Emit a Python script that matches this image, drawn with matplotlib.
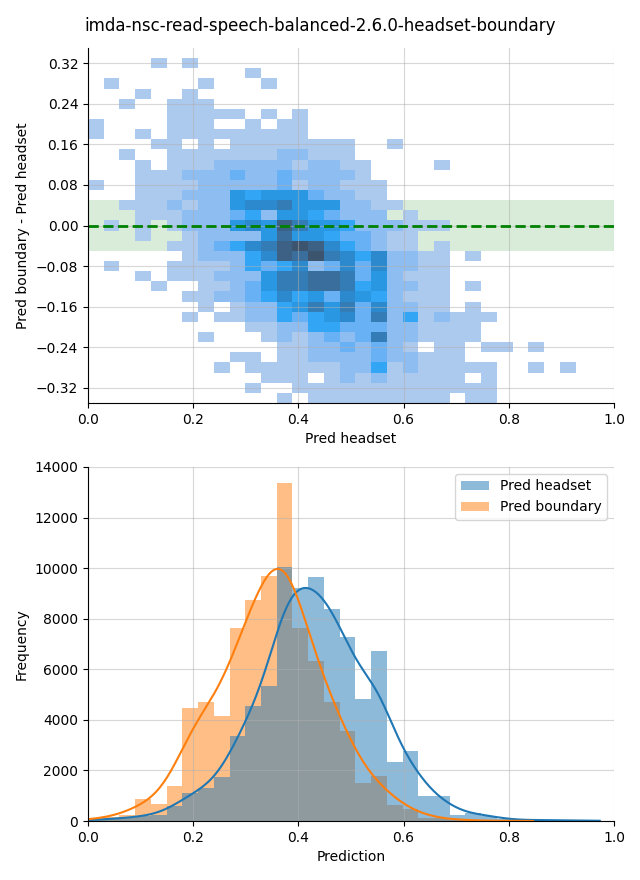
import numpy as np
import matplotlib
matplotlib.use("Agg")
import matplotlib.pyplot as plt
from matplotlib.colors import ListedColormap, to_rgba
from matplotlib.patches import Patch
from seaborn.external import husl

# ---------------- data ----------------
title = "imda-nsc-read-speech-balanced-2.6.0-headset-boundary"

bin_width = 0.0299          # shared histogram bin width (starts at 0)
n_bins = 33

headset_counts = [60, 80, 120, 200, 230, 585, 1110, 1310, 1730, 3380, 4560,
                  5350, 10050, 9220, 9650, 8390, 7260, 4825, 6730, 2350, 2780,
                  1007, 1007, 257, 323, 217, 60, 40, 30, 40, 30, 20, 10]
boundary_counts = [110, 140, 230, 888, 691, 1402, 4455, 4720, 4167, 7642, 8748,
                   9696, 13370, 7642, 6340, 4720, 3574, 1508, 1770, 652, 481,
                   126, 100, 40, 20, 10, 5, 3, 0, 0, 0, 0, 0]
headset_range = (0.0, 0.973)
boundary_range = (0.0, 0.846)

# 2D histogram: rows from diff = +0.33 downwards in steps of 0.02,
# columns = Pred headset bins; value = relative count level ('.' = empty)
diff_top_edge = 0.33
diff_bin_height = 0.02
cell_levels = [
    "....1.1...." "..........." "...........",
    "..........1" "..........." "...........",
    ".1.....1..." "1.........." "...........",
    "...1..1...." "..........." "...........",
    "..1..111..." "..........." "...........",
    ".....11111." "1.1........" "...........",
    "1....111..1" ".11........" "...........",
    "1..1.111111" "111........" "...........",
    "....11.1.11" "111111..1.." "...........",
    "..1..111111" "122111....." "...........",
    "...1.111222" "2212211...." "1..........",
    "...11122232" "2322221...." "...........",
    "1..11112222" "23122111..." "...........",
    "...11122254" "55532211..." "...........",
    "..111212256" "675552211.." "...........",
    "...11122234" "25543222.1." "...........",
    ".1.1.122256" "59755422211" "1..........",
    "...1..12222" "5855433211." "...........",
    ".....112346" "79A9643211." "1..........",
    "......12224" "698A7646221" "1.1........",
    ".1...111124" "34623636221" "1..........",
    "...1.111222" "57788735211" "1..........",
    "....1..1123" "57788745221" "1.1........",
    "......11223" "46453654211" "1..........",
    ".......1.12" "24575736221" "1.1........",
    "......1.112" "24345637241" "2111.......",
    "..........1" "12244333221" "111........",
    ".......1..." "12123237221" "111........",
    "..........." ".112232321." "11.11.1....",
    ".........11" ".1122223221" "11.........",
    "........1.1" "11111224121" "1111..1.1..",
    "..........." "111.1212111" "11.1.......",
    "..........1" "..111111111" "1111.......",
    "..........." ".1.11111111" "1.11.......",
]

band_limits = (-0.05, 0.05)
y_ticks_top = [-0.32, -0.24, -0.16, -0.08, 0.0, 0.08, 0.16, 0.24, 0.32]


# ---------------- helpers ----------------
def seed_cmap(color):
    r, g, b, _ = to_rgba(color)
    h, s, _ = husl.rgb_to_husl(r, g, b)
    xx = np.linspace(-1, 1, int(1.15 * 256))[:256]
    ramp = np.zeros((256, 3))
    ramp[:, 0] = h
    ramp[:, 1] = s * np.cos(xx)
    ramp[:, 2] = np.linspace(35, 80, 256)
    cols = np.clip([husl.husl_to_rgb(*hsl) for hsl in ramp], 0, 1)
    return ListedColormap(cols[::-1])


def binned_kde(counts, lo, hi, bw):
    counts = np.asarray(counts, float)
    centers = (np.arange(len(counts)) + 0.5) * bin_width
    xs = np.linspace(lo, hi, 400)
    z = (xs[:, None] - centers[None, :]) / bw
    dens = (counts[None, :] * np.exp(-0.5 * z ** 2)).sum(1) / (np.sqrt(2 * np.pi) * bw)
    return xs, dens * bin_width


# ---------------- figure ----------------
fig = plt.figure(figsize=(6.4, 8.8), dpi=100)
ax1 = fig.add_axes([88 / 640, 1 - 403 / 880, 526 / 640, 355 / 880])
ax2 = fig.add_axes([88 / 640, 1 - 821 / 880, 526 / 640, 354 / 880])
fig.suptitle(title, fontsize=12, y=1 - 26 / 880, va="center")

# --- top: 2D histogram ---
levels = np.array([[0 if ch == "." else int(ch, 16) for ch in row] for row in cell_levels], float)
x_edges = np.arange(n_bins + 1) * bin_width
y_edges = diff_top_edge - diff_bin_height * np.arange(levels.shape[0] + 1)
masked = np.ma.masked_less_equal(levels, 0)
ax1.axhspan(*band_limits, color="green", alpha=0.15, lw=0, zorder=0.5)
ax1.pcolormesh(x_edges, y_edges, masked, cmap=seed_cmap("C0"), vmin=1, vmax=10, zorder=1)
ax1.axhline(0, color="green", linestyle="--", linewidth=2, zorder=2)
ax1.set_xlim(0, 1)
ax1.set_ylim(-0.35, 0.35)
ax1.set_yticks(y_ticks_top)
ax1.set_xlabel("Pred headset")
ax1.set_ylabel("Pred boundary - Pred headset")
ax1.grid(True, alpha=0.5)

# --- bottom: 1D histograms ---
centers = (np.arange(n_bins) + 0.5) * bin_width
ax2.bar(centers, boundary_counts, width=bin_width, color="C1", alpha=0.5, linewidth=0, zorder=1)
ax2.bar(centers, headset_counts, width=bin_width, color="C0", alpha=0.5, linewidth=0, zorder=1)
xs, ys = binned_kde(headset_counts, *headset_range, bw=0.032)
ax2.plot(xs, ys, color="C0", lw=1.5, zorder=2)
xs, ys = binned_kde(boundary_counts, *boundary_range, bw=0.038)
ax2.plot(xs, ys, color="C1", lw=1.5, zorder=2)
ax2.set_xlim(0, 1)
ax2.set_ylim(0, 14000)
ax2.set_yticks(np.arange(0, 14001, 2000))
ax2.set_xlabel("Prediction")
ax2.set_ylabel("Frequency")
ax2.grid(True, alpha=0.5)
handles = [Patch(facecolor="C0", alpha=0.5, label="Pred headset"),
           Patch(facecolor="C1", alpha=0.5, label="Pred boundary")]
ax2.legend(handles=handles, loc="upper right")

for ax in (ax1, ax2):
    ax.spines["top"].set_visible(False)
    ax.spines["right"].set_visible(False)

fig.savefig("out.png", dpi=100)
